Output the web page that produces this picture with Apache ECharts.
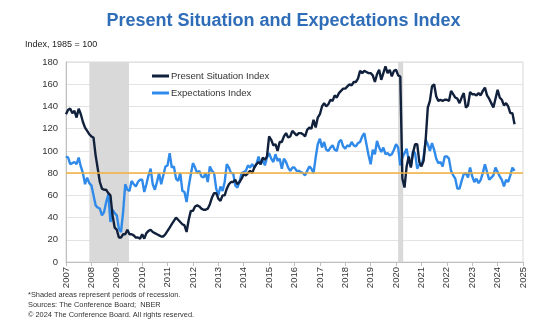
<!DOCTYPE html>
<html>
<head>
<meta charset="utf-8">
<script src="https://cdn.jsdelivr.net/npm/echarts@6/dist/echarts.min.js"></script>
<style>
html,body{margin:0;padding:0;background:#fff;}
#chart{width:536px;height:328px;}
</style>
</head>
<body>
<div id="chart"></div>
<script>
// Monthly data, Jan 2007 - Sep 2024
var startYear = 2007;
var presentSituation = [
  // 2007
  133,137,138,134,136,130,138,133,126,121,118,115,
  // 2008
  113,112,96,84,72,66,65,65,62,60,42,31,
  // 2009
  29,22,22,25,25,29,25,25,24,22,22,21,
  // 2010
  25,21,26,28,29,27,26,25,24,23,23,25,
  // 2011
  28,31,34,37,40,38,36,34,33,27,38,46,
  // 2012
  46,50,51,50,48,47,47,48,52,58,62,62,
  // 2013
  57,55,60,60,66,70,72,72,74,70,72,75,
  // 2014
  79,78,80,82,80,85,88,90,88,94,92,95,
  // 2015
  113,110,105,106,100,108,108,113,116,112,113,118,
  // 2016
  116,114,116,116,115,113,119,121,120,128,121,130,
  // 2017
  133,140,143,140,142,146,145,150,148,152,154,156,
  // 2018
  156,158,160,159,162,162,165,172,170,172,171,170,
  // 2019
  170,168,162,169,173,164,170,176,170,173,167,172,
  // 2020
  173,168,167,75,67,86,95,85,98,106,106,90,
  // 2021
  86,91,110,139,145,158,160,149,145,146,145,146,
  // 2022
  146,145,154,151,148,147,143,148,152,139,141,153,
  // 2023
  151,151,150,152,150,154,157,150,147,143,139,147,
  // 2024
  155,148,146,141,143,140,134,134,124
];
var expectations = [
  // 2007
  95,94,88,89,90,88,94,86,80,70,76,71,
  // 2008
  69,60,51,49,48,42,45,54,61,36,47,44,
  // 2009
  42,30,27,45,70,65,64,73,70,68,72,74,
  // 2010
  74,63,70,78,84,70,65,72,80,70,78,86,
  // 2011
  87,98,85,86,75,73,80,64,63,54,68,79,
  // 2012
  89,85,80,82,77,76,80,72,86,82,80,66,
  // 2013
  60,68,64,72,88,85,80,80,69,67,72,80,
  // 2014
  81,82,87,85,88,85,88,95,88,92,87,94,
  // 2015
  98,93,90,97,91,93,84,93,90,85,82,85,
  // 2016
  85,82,82,81,80,78,82,86,84,80,94,106,
  // 2017
  111,103,108,101,100,103,105,101,100,108,110,104,
  // 2018
  102,105,104,108,105,104,107,108,113,116,106,96,
  // 2019
  88,101,97,109,103,99,103,97,98,96,97,101,
  // 2020
  106,103,87,94,98,102,91,86,100,98,84,88,
  // 2021
  87,94,110,106,100,107,101,93,89,90,86,95,
  // 2022
  95,93,82,78,75,66,66,73,79,80,76,85,
  // 2023
  77,72,75,71,74,80,88,81,74,76,78,85,
  // 2024
  81,77,74,68,74,72,78,85,82
];
var recessions = [[2007.92, 2009.48], [2020.08, 2020.28]];
var referenceLevel = 80;
var seriesNames = ['Present Situation Index', 'Expectations Index'];
var titleText = 'Present Situation and Expectations Index';
var unitText = 'Index, 1985 = 100';
var footnotes = [
  '*Shaded areas represent periods of recession.',
  'Sources: The Conference Board;  NBER',
  '\u00a9 2024 The Conference Board. All rights reserved.'
];

function toPoints(arr) {
  return arr.map(function (v, i) { return [startYear + i / 12, v]; });
}

var chart = echarts.init(document.getElementById('chart'), null, {renderer: 'canvas'});
var font = 'Liberation Sans, Arial, sans-serif';
chart.setOption({
  animation: false,
  backgroundColor: '#ffffff',
  graphic: [
    {type: 'text', x: 283.5, y: 21, style: {text: titleText, font: 'bold 18px ' + font, fill: '#2F6DB8', textAlign: 'center', textVerticalAlign: 'middle'}},
    {type: 'text', left: 25, top: 40, style: {text: unitText, font: '9px ' + font, fill: '#222'}},
    {type: 'text', left: 28, top: 291, style: {text: footnotes[0], font: '7.4px ' + font, fill: '#333'}},
    {type: 'text', left: 28, top: 301, style: {text: footnotes[1], font: '7.4px ' + font, fill: '#333'}},
    {type: 'text', left: 28, top: 311, style: {text: footnotes[2], font: '7.4px ' + font, fill: '#333'}}
  ],
  legend: {
    data: [
      {name: seriesNames[0], icon: 'rect'},
      {name: seriesNames[1], icon: 'rect'}
    ],
    orient: 'vertical',
    left: 147, top: 66,
    itemWidth: 17, itemHeight: 3, itemGap: 7,
    textStyle: {fontFamily: font, fontSize: 9.5, color: '#333', padding: [0, 0, 0, -3]}
  },
  grid: {left: 66, right: 13, top: 62, bottom: 66, show: true, borderColor: '#d9d9d9', borderWidth: 1, backgroundColor: 'transparent'},
  xAxis: {
    type: 'value', min: 2007, max: 2025, interval: 1,
    axisLine: {onZero: false, lineStyle: {color: '#bfbfbf'}},
    axisTick: {show: true, length: 4, lineStyle: {color: '#bfbfbf'}},
    splitLine: {show: false},
    axisLabel: {rotate: 90, fontFamily: font, fontSize: 9.5, color: '#333', margin: 5,
      formatter: function (v) { return String(Math.round(v)); }}
  },
  yAxis: {
    type: 'value', min: 0, max: 180, interval: 20,
    axisLine: {show: true, lineStyle: {color: '#bfbfbf'}},
    axisTick: {show: false},
    splitLine: {lineStyle: {color: '#e3e3e3', width: 1}},
    axisLabel: {fontFamily: font, fontSize: 9.5, color: '#333', margin: 8}
  },
  series: [
    {
      name: 'recession', type: 'line', data: [], z: 1, silent: true,
      markArea: {
        silent: true,
        itemStyle: {color: '#d9d9d9'},
        data: recessions.map(function (r) { return [{xAxis: r[0], yAxis: 0}, {xAxis: r[1], yAxis: 180}]; })
      }
    },
    {
      name: seriesNames[1], type: 'line', data: toPoints(expectations), z: 3,
      showSymbol: false, symbol: 'none',
      lineStyle: {color: '#2F8AEA', width: 2.4}, itemStyle: {color: '#2F8AEA'}
    },
    {
      name: seriesNames[0], type: 'line', data: toPoints(presentSituation), z: 4,
      showSymbol: false, symbol: 'none',
      lineStyle: {color: '#11213C', width: 2.4}, itemStyle: {color: '#11213C'},
      markLine: {
        silent: true, symbol: 'none', label: {show: false},
        lineStyle: {color: '#F4B13E', width: 1.5, type: 'solid'},
        data: [{yAxis: referenceLevel}]
      }
    }
  ]
});
</script>
</body>
</html>
